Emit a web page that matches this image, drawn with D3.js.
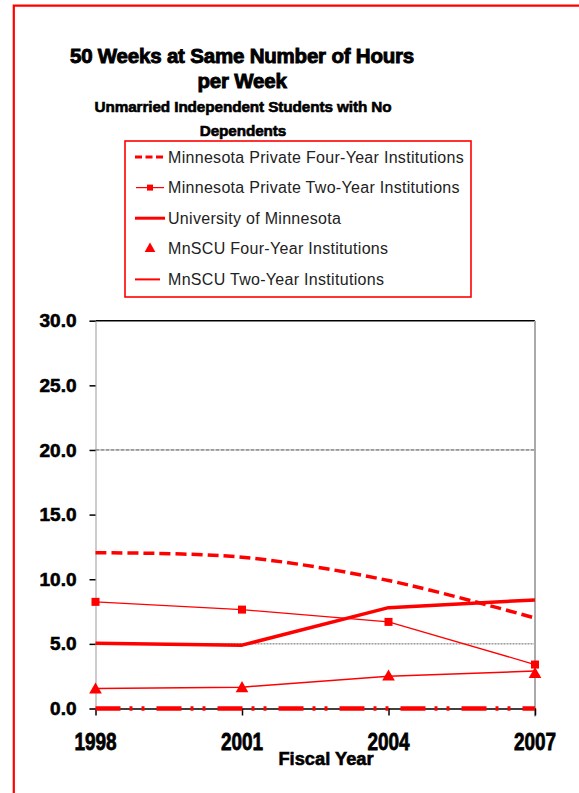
<!DOCTYPE html>
<html>
<head>
<meta charset="utf-8">
<script src="https://cdn.jsdelivr.net/npm/d3@7/dist/d3.min.js"></script>
<style>
  html, body { margin: 0; padding: 0; background: #fff; }
  svg { display: block; }
  text { font-family: "Liberation Sans", Arial, sans-serif; }
</style>
</head>
<body>
<div id="chart"></div>
<script>
// ---- data ----
const years = ["1998", "2001", "2004", "2007"];
const yTicks = [0, 5, 10, 15, 20, 25, 30];

const privateFourYear = [12.05, 11.7, 9.9, 7.0];
const privateTwoYear  = [8.25, 7.65, 6.7, 3.4];
const univMinnesota   = [5.05, 4.9, 7.8, 8.4];
const mnscuFourYear   = [1.45, 1.55, 2.45, 2.65];
const mnscuTwoYear    = [1.55, 1.65, 2.5, 2.9];
const baselineTrace   = [0, 0, 0, 0];

const titleLines    = ["50 Weeks at Same Number of Hours", "per Week"];
const subtitleLines = ["Unmarried Independent Students with No", "Dependents"];
const legendLabels  = [
  "Minnesota Private Four-Year Institutions",
  "Minnesota Private Two-Year Institutions",
  "University of Minnesota",
  "MnSCU Four-Year Institutions",
  "MnSCU Two-Year Institutions"
];
const xTitle = "Fiscal Year";

// ---- layout ----
const W = 579, H = 793;
const RED = "#ff0000";

const svg = d3.select("#chart").append("svg")
  .attr("width", W).attr("height", H);

svg.append("rect").attr("width", W).attr("height", H).attr("fill", "#fff");

// outer frame (top and left edges)
svg.append("path")
  .attr("d", "M13.8," + H + " L13.8,5.7 L" + W + ",5.7")
  .attr("fill", "none").attr("stroke", RED).attr("stroke-width", 2.2);

// ---- titles ----
const titleG = svg.append("g").attr("text-anchor", "middle").attr("fill", "#000");
titleG.selectAll("text.t").data(titleLines).join("text")
  .attr("class", "t")
  .attr("x", 242)
  .attr("y", (d, i) => 63 + i * 24.5)
  .attr("font-size", 20.5).attr("font-weight", "bold")
  .attr("stroke", "#000").attr("stroke-width", 0.9)
  .attr("letter-spacing", -0.2)
  .text(d => d);
titleG.selectAll("text.s").data(subtitleLines).join("text")
  .attr("class", "s")
  .attr("x", 243)
  .attr("y", (d, i) => 111.5 + i * 24)
  .attr("font-size", 15.3).attr("font-weight", "bold")
  .attr("stroke", "#000").attr("stroke-width", 0.6)
  .attr("letter-spacing", -0.1)
  .text(d => d);

// ---- scales ----
const x = d3.scalePoint().domain(years).range([95.5, 535]);
const y = d3.scaleLinear().domain([0, 30]).range([708.5, 320.7]);

// ---- gridlines ----
const grid = svg.append("g");
grid.append("line")
  .attr("x1", x("1998")).attr("x2", x("2007"))
  .attr("y1", y(30)).attr("y2", y(30))
  .attr("stroke", "#000").attr("stroke-width", 1.6);
grid.append("line")
  .attr("x1", x("1998")).attr("x2", x("2007"))
  .attr("y1", y(20)).attr("y2", y(20))
  .attr("stroke", "#444").attr("stroke-width", 1)
  .attr("stroke-dasharray", "4,1");
grid.append("line")
  .attr("x1", x("1998")).attr("x2", x("2007"))
  .attr("y1", y(5)).attr("y2", y(5))
  .attr("stroke", "#666").attr("stroke-width", 1)
  .attr("stroke-dasharray", "2,1");

// right plot edge
svg.append("line")
  .attr("x1", x("2007")).attr("x2", x("2007"))
  .attr("y1", y(30)).attr("y2", y(0) + 8)
  .attr("stroke", "#aaa").attr("stroke-width", 2);

// ---- y axis ----
const yAxis = d3.axisLeft(y).tickValues(yTicks).tickSize(6).tickPadding(13)
  .tickFormat(d3.format(".1f"));
const yg = svg.append("g").attr("transform", "translate(" + x("1998") + ",0)").call(yAxis);
yg.select(".domain").attr("stroke", "#999").attr("stroke-width", 1);
yg.selectAll(".tick line").attr("stroke", "#000").attr("stroke-width", 1.5);
yg.selectAll(".tick text")
  .attr("font-family", "Liberation Sans, Arial, sans-serif")
  .attr("font-size", 19).attr("font-weight", "bold")
  .attr("stroke", "#000").attr("stroke-width", 0.6)
  .attr("fill", "#000");

// ---- x axis ----
const xAxis = d3.axisBottom(x).tickSize(7).tickSizeOuter(0).tickFormat(() => "");
const xg = svg.append("g").attr("transform", "translate(0," + y(0) + ")").call(xAxis);
xg.select(".domain").attr("stroke", "#000").attr("stroke-width", 1.6);
xg.selectAll(".tick line").attr("stroke", "#000").attr("stroke-width", 1.5);

svg.append("g").selectAll("text").data(years).join("text")
  .attr("transform", d => "translate(" + x(d) + ",750) scale(1,1.3)")
  .attr("text-anchor", "middle")
  .attr("font-size", 19).attr("font-weight", "bold")
  .attr("stroke", "#000").attr("stroke-width", 0.6)
  .text(d => d);

svg.append("text")
  .attr("x", 326).attr("y", 765)
  .attr("text-anchor", "middle")
  .attr("font-size", 18.3).attr("font-weight", "bold")
  .attr("stroke", "#000").attr("stroke-width", 0.6)
  .text(xTitle);

// ---- series ----
const pts = vals => vals.map((v, i) => [x(years[i]), y(v)]);
const straight = d3.line();
const smooth = d3.line().curve(d3.curveCatmullRom.alpha(0.5));
const plot = svg.append("g");

// dash-dot trace along zero
plot.append("path")
  .attr("d", straight(pts(baselineTrace)))
  .attr("fill", "none").attr("stroke", RED).attr("stroke-width", 4.5)
  .attr("stroke-dasharray", "25,9,3,9,3,12");

// MnSCU two-year: plain line
plot.append("path")
  .attr("d", straight(pts(mnscuTwoYear)))
  .attr("fill", "none").attr("stroke", RED).attr("stroke-width", 1.5);

// MnSCU four-year: triangle markers
plot.selectAll("path.tri").data(mnscuFourYear).join("path")
  .attr("class", "tri")
  .attr("d", d3.symbol().type(d3.symbolTriangle).size(70))
  .attr("transform", (d, i) => "translate(" + x(years[i]) + "," + y(d) + ")")
  .attr("fill", RED);

// Private two-year: thin line with square markers
plot.append("path")
  .attr("d", straight(pts(privateTwoYear)))
  .attr("fill", "none").attr("stroke", RED).attr("stroke-width", 1.3);
plot.selectAll("rect.sq").data(privateTwoYear).join("rect")
  .attr("class", "sq")
  .attr("x", (d, i) => x(years[i]) - 4).attr("y", d => y(d) - 4)
  .attr("width", 8).attr("height", 8)
  .attr("fill", RED);

// University of Minnesota: thick line
plot.append("path")
  .attr("d", straight(pts(univMinnesota)))
  .attr("fill", "none").attr("stroke", RED).attr("stroke-width", 3.5)
  .attr("stroke-linejoin", "round");

// Private four-year: thick dashed smoothed line
plot.append("path")
  .attr("d", smooth(pts(privateFourYear)))
  .attr("fill", "none").attr("stroke", RED).attr("stroke-width", 3.5)
  .attr("stroke-dasharray", "11,5");

// ---- legend ----
const lg = svg.append("g");
lg.append("rect")
  .attr("x", 125).attr("y", 141).attr("width", 346).attr("height", 156)
  .attr("fill", "#fff").attr("stroke", RED).attr("stroke-width", 1.6);

const rowY = i => 157 + i * 30.6;
const row = lg.selectAll("g.row").data(legendLabels).join("g")
  .attr("class", "row")
  .attr("transform", (d, i) => "translate(0," + rowY(i) + ")");

row.append("text")
  .attr("x", 168).attr("y", 5.6)
  .attr("font-size", 16).attr("letter-spacing", 0.3)
  .attr("fill", "#222")
  .text(d => d);

// samples
const s = row.filter((d, i) => i === 0);
s.append("line").attr("x1", 135).attr("x2", 166).attr("y1", 0).attr("y2", 0)
  .attr("stroke", RED).attr("stroke-width", 3).attr("stroke-dasharray", "7,3.5");
const s1 = row.filter((d, i) => i === 1);
s1.append("line").attr("x1", 136).attr("x2", 164).attr("y1", 0).attr("y2", 0)
  .attr("stroke", RED).attr("stroke-width", 1.2);
s1.append("rect").attr("x", 147).attr("y", -3).attr("width", 6).attr("height", 6).attr("fill", RED);
const s2 = row.filter((d, i) => i === 2);
s2.append("line").attr("x1", 135).attr("x2", 165).attr("y1", 0).attr("y2", 0)
  .attr("stroke", RED).attr("stroke-width", 3);
const s3 = row.filter((d, i) => i === 3);
s3.append("path").attr("d", d3.symbol().type(d3.symbolTriangle).size(50))
  .attr("transform", "translate(150,0)").attr("fill", RED);
const s4 = row.filter((d, i) => i === 4);
s4.append("line").attr("x1", 135).attr("x2", 160).attr("y1", 0).attr("y2", 0)
  .attr("stroke", RED).attr("stroke-width", 2);
</script>
</body>
</html>
